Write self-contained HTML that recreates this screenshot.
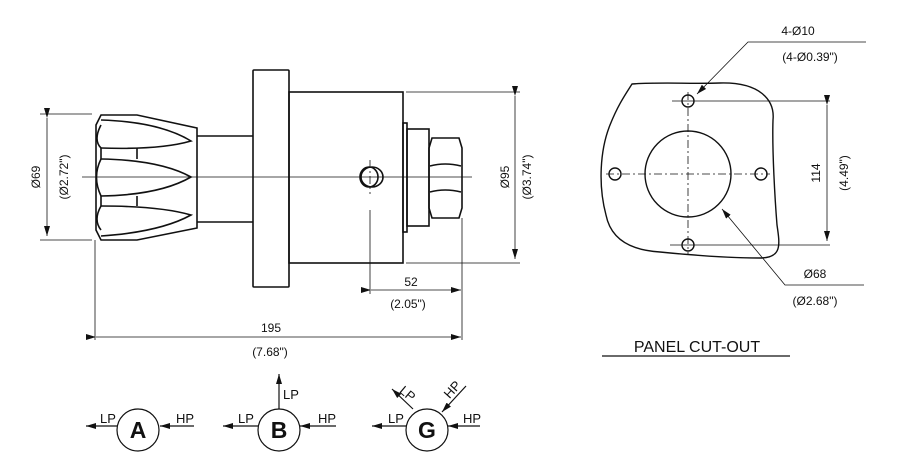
<!DOCTYPE html>
<html><head><meta charset="utf-8"><style>
html,body{margin:0;padding:0;background:#fff;}
svg{display:block;}
text{font-family:"Liberation Sans",sans-serif;fill:#111;}
</style></head><body>
<svg width="900" height="470" viewBox="0 0 900 470" xmlns="http://www.w3.org/2000/svg">
<defs>
<marker id="ar" markerWidth="10" markerHeight="6" refX="10" refY="3" orient="auto" markerUnits="userSpaceOnUse"><path d="M0,0 L10,3 L0,6 z" fill="#111"/></marker>
</defs>
<g stroke="#111" fill="none" stroke-width="1.6">
<path d="M101,115 L137,115 L197,128 L197,228 L137,240 L101,240 L96,230 L96,125 Z"/>
<path d="M101,120 Q160,122 191,141 Q160,150 101,148"/>
<path d="M101,159 Q160,160 191,177 Q160,195 101,196"/>
<path d="M101,206 Q160,206 191,215 Q160,232 101,236"/>
<path d="M101,148 L101,159 M137,148 L137,159 M101,196 L101,206 M137,196 L137,206"/>
<path d="M101,125 Q93,140 101,148 M101,159 Q92,177 101,196 M101,206 Q93,220 101,230"/>
<path d="M197,136 L253,136 M197,222 L253,222"/>
<rect x="253" y="70" width="36" height="217" rx="1"/>
<rect x="289" y="92" width="114" height="171"/>
<rect x="403" y="123" width="4" height="109"/>
<rect x="407" y="129" width="22" height="97"/>
<path d="M432,138 L459,138 L462,148 L462,208 L459,218 L432,218 L429,208 L429,148 Z"/>
<path d="M430,166 Q445,162 461,166 M430,192 Q445,188 461,192"/>
<ellipse cx="372" cy="177" rx="11" ry="10"/>
<ellipse cx="369" cy="177" rx="9" ry="10"/>
</g>
<g stroke="#111" fill="none" stroke-width="0.8">
<path d="M82,177 L472,177"/>
<path d="M370,160 L370,194" stroke-dasharray="8,3,2,3"/>
<path d="M370,210 L370,294"/>
<path d="M40,114 L92,114 M40,240 L92,240"/>
<path d="M47,118 L47,236" marker-start="url(#ar)" marker-end="url(#ar)"/>
<path d="M406,92 L520,92 M406,263 L520,263"/>
<path d="M515,96 L515,259" marker-start="url(#ar)" marker-end="url(#ar)"/>
<path d="M462,218 L462,340"/>
<path d="M95,240 L95,340"/>
<path d="M371,290 L461,290" marker-start="url(#ar)" marker-end="url(#ar)"/>
<path d="M96,337 L461,337" marker-start="url(#ar)" marker-end="url(#ar)"/>
</g>
<g font-size="12">
<text x="37" y="177" transform="rotate(-90 37 177)" text-anchor="middle" dominant-baseline="middle">Ø69</text>
<text x="65" y="177" transform="rotate(-90 65 177)" text-anchor="middle" dominant-baseline="middle">(Ø2.72")</text>
<text x="506" y="177" transform="rotate(-90 506 177)" text-anchor="middle" dominant-baseline="middle">Ø95</text>
<text x="528" y="177" transform="rotate(-90 528 177)" text-anchor="middle" dominant-baseline="middle">(Ø3.74")</text>
<text x="411" y="286" text-anchor="middle">52</text>
<text x="408" y="308" text-anchor="middle">(2.05")</text>
<text x="271" y="332" text-anchor="middle">195</text>
<text x="270" y="356" text-anchor="middle">(7.68")</text>
</g>
<g stroke="#111" fill="none" stroke-width="1.4">
<path d="M632,84 C660,82 690,84 720,83 C760,82 775,100 773,120 C772,150 775,200 777,225 C780,245 782,258 760,258 C730,258 700,256 660,252 C625,250 610,235 606,215 C598,185 600,150 610,125 C618,105 625,95 632,84 Z"/>
<circle cx="688" cy="174" r="43"/>
<circle cx="688" cy="101" r="6"/>
<circle cx="688" cy="245" r="6"/>
<circle cx="615" cy="174" r="6"/>
<circle cx="761" cy="174" r="6"/>
</g>
<g stroke="#111" fill="none" stroke-width="0.8">
<path d="M672,101 L830,101 M670,245 L830,245"/>
<path d="M606,174 L770,174 M688,92 L688,254" stroke-dasharray="8,3,2,3"/>
<path d="M827,105 L827,241" marker-start="url(#ar)" marker-end="url(#ar)"/>
<path d="M866,42 L748,42 L697,94" marker-end="url(#ar)"/>
<path d="M864,285 L785,285 L722,209" marker-end="url(#ar)"/>
<path d="M602,356 L790,356" stroke-width="1.2"/>
</g>
<g font-size="12">
<text x="798" y="35" text-anchor="middle">4-Ø10</text>
<text x="810" y="61" text-anchor="middle">(4-Ø0.39")</text>
<text x="817" y="173" transform="rotate(-90 817 173)" text-anchor="middle" dominant-baseline="middle">114</text>
<text x="845" y="173" transform="rotate(-90 845 173)" text-anchor="middle" dominant-baseline="middle">(4.49")</text>
<text x="815" y="278" text-anchor="middle">Ø68</text>
<text x="815" y="305" text-anchor="middle">(Ø2.68")</text>
<text x="697" y="352" text-anchor="middle" font-size="16">PANEL CUT-OUT</text>
</g>
<g stroke="#111" fill="none" stroke-width="1.2">
<circle cx="138" cy="430" r="21"/>
<circle cx="279" cy="430" r="21"/>
<circle cx="427" cy="430" r="21"/>
<path d="M117,426 L86,426" marker-end="url(#ar)"/>
<path d="M194,426 L160,426" marker-end="url(#ar)"/>
<path d="M258,426 L223,426" marker-end="url(#ar)"/>
<path d="M336,426 L300,426" marker-end="url(#ar)"/>
<path d="M279,409 L279,374" marker-end="url(#ar)"/>
<path d="M406,426 L372,426" marker-end="url(#ar)"/>
<path d="M480,426 L448,426" marker-end="url(#ar)"/>
<path d="M413,409 L392,389" marker-end="url(#ar)"/>
<path d="M466,386 L442,412" marker-end="url(#ar)"/>
</g>
<g font-size="13">
<text x="100" y="423">LP</text>
<text x="176" y="423">HP</text>
<text x="238" y="423">LP</text>
<text x="318" y="423">HP</text>
<text x="283" y="399">LP</text>
<text x="388" y="423">LP</text>
<text x="463" y="423">HP</text>
<text x="400" y="396" transform="rotate(40 405 392)">LP</text>
<text x="445" y="395" transform="rotate(-48 452 392)">HP</text>
</g>
<g font-size="23" font-weight="bold" text-anchor="middle">
<text x="138" y="438">A</text>
<text x="279" y="438">B</text>
<text x="427" y="438">G</text>
</g>
</svg>
</body></html>
